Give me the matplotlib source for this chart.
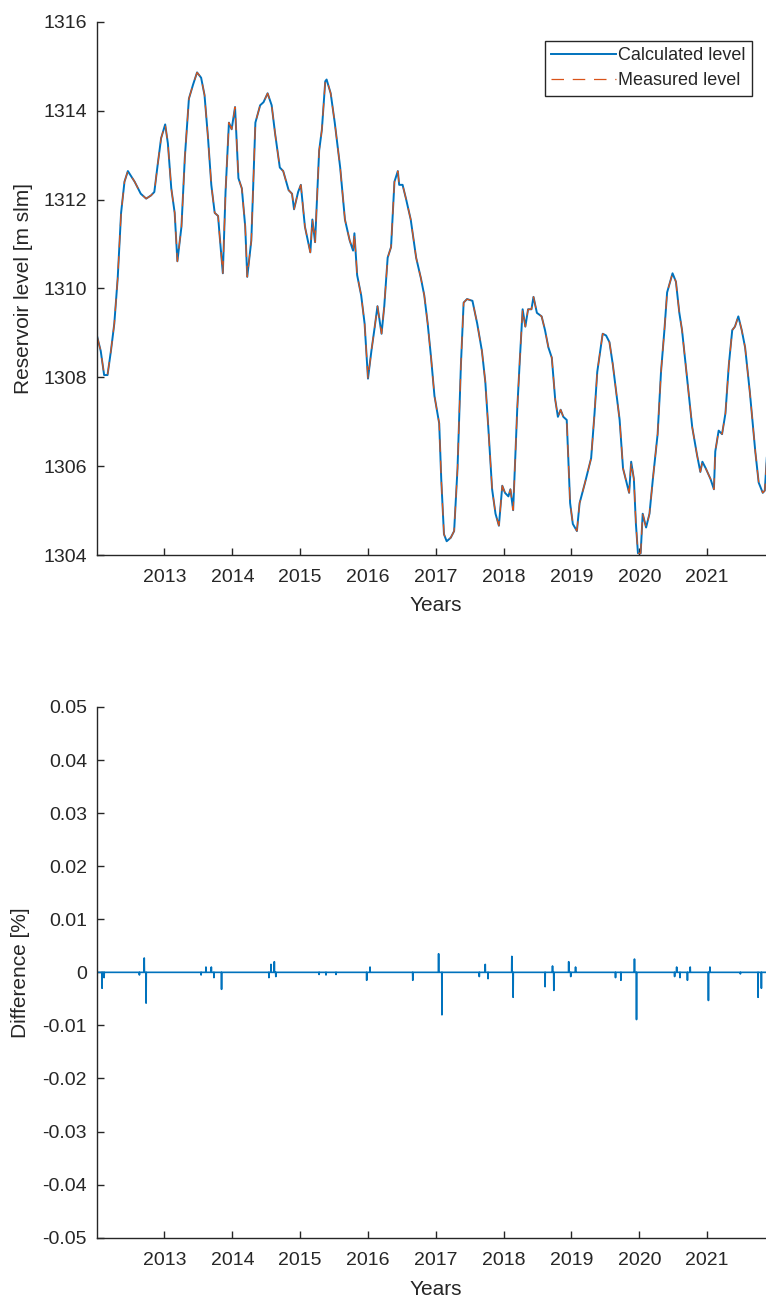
import matplotlib
matplotlib.use("Agg")
import matplotlib.pyplot as plt
import numpy as np

plt.rcParams['font.family'] = ['Liberation Sans', 'DejaVu Sans']
plt.rcParams['axes.unicode_minus'] = False

# reservoir level (decimal year, m slm)
level_years = [
    2012.01, 2012.06, 2012.11, 2012.16, 2012.21, 2012.26, 2012.31, 2012.36, 2012.41, 2012.46,
    2012.56, 2012.65, 2012.73, 2012.80, 2012.85, 2012.90, 2012.95, 2013.01, 2013.05, 2013.10,
    2013.15, 2013.19, 2013.25, 2013.30, 2013.36, 2013.42, 2013.48, 2013.54, 2013.59, 2013.64,
    2013.69, 2013.74, 2013.79, 2013.81, 2013.86, 2013.90, 2013.95, 2013.99, 2014.04, 2014.09,
    2014.14, 2014.19, 2014.22, 2014.28, 2014.34, 2014.41, 2014.46, 2014.52, 2014.58, 2014.63,
    2014.70, 2014.75, 2014.83, 2014.88, 2014.91, 2014.97, 2015.01, 2015.07, 2015.15, 2015.18,
    2015.22, 2015.28, 2015.32, 2015.37, 2015.39, 2015.45, 2015.51, 2015.59, 2015.66, 2015.73,
    2015.78, 2015.80, 2015.84, 2015.90, 2015.95, 2016.00, 2016.05, 2016.10, 2016.14, 2016.17,
    2016.20, 2016.24, 2016.29, 2016.34, 2016.39, 2016.44, 2016.46, 2016.51, 2016.56, 2016.63,
    2016.71, 2016.78, 2016.83, 2016.88, 2016.93, 2016.98, 2017.05, 2017.08, 2017.12, 2017.16,
    2017.22, 2017.27, 2017.32, 2017.37, 2017.41, 2017.46, 2017.54, 2017.61, 2017.68, 2017.73,
    2017.78, 2017.83, 2017.88, 2017.93, 2017.98, 2018.02, 2018.07, 2018.10, 2018.14, 2018.20,
    2018.24, 2018.28, 2018.32, 2018.36, 2018.41, 2018.44, 2018.49, 2018.56, 2018.61, 2018.66,
    2018.71, 2018.76, 2018.80, 2018.84, 2018.88, 2018.93, 2018.98, 2019.02, 2019.08, 2019.12,
    2019.20, 2019.29, 2019.34, 2019.38, 2019.41, 2019.46, 2019.51, 2019.56, 2019.61, 2019.66,
    2019.71, 2019.76, 2019.80, 2019.85, 2019.88, 2019.92, 2019.95, 2019.98, 2020.02, 2020.05,
    2020.10, 2020.15, 2020.20, 2020.27, 2020.32, 2020.37, 2020.41, 2020.49, 2020.54, 2020.59,
    2020.63, 2020.71, 2020.78, 2020.85, 2020.90, 2020.93, 2020.98, 2021.05, 2021.10, 2021.12,
    2021.17, 2021.22, 2021.27, 2021.32, 2021.37, 2021.41, 2021.46, 2021.51, 2021.56, 2021.63,
    2021.71, 2021.76, 2021.82, 2021.85, 2021.88, 2021.95, 2022.00,
]
level_values = [
    1308.90, 1308.59, 1308.05, 1308.05, 1308.59, 1309.21, 1310.23, 1311.70, 1312.40, 1312.64,
    1312.40, 1312.13, 1312.02, 1312.09, 1312.17, 1312.79, 1313.38, 1313.69, 1313.26, 1312.25,
    1311.70, 1310.61, 1311.39, 1312.95, 1314.27, 1314.58, 1314.86, 1314.74, 1314.35, 1313.42,
    1312.33, 1311.70, 1311.63, 1311.24, 1310.34, 1312.17, 1313.73, 1313.58, 1314.08, 1312.48,
    1312.25, 1311.39, 1310.26, 1311.08, 1313.73, 1314.12, 1314.19, 1314.39, 1314.12, 1313.49,
    1312.72, 1312.64, 1312.21, 1312.13, 1311.78, 1312.17, 1312.33, 1311.39, 1310.81, 1311.55,
    1311.04, 1313.10, 1313.57, 1314.66, 1314.70, 1314.39, 1313.73, 1312.72, 1311.55, 1311.08,
    1310.85, 1311.24, 1310.30, 1309.84, 1309.21, 1307.97, 1308.59, 1309.14, 1309.60, 1309.29,
    1308.98, 1309.60, 1310.69, 1310.93, 1312.40, 1312.64, 1312.33, 1312.33, 1312.02, 1311.55,
    1310.69, 1310.23, 1309.84, 1309.21, 1308.44, 1307.58, 1306.96, 1305.71, 1304.47, 1304.31,
    1304.39, 1304.54, 1305.95, 1308.28, 1309.68, 1309.76, 1309.72, 1309.21, 1308.59, 1307.89,
    1306.72, 1305.48, 1304.93, 1304.66, 1305.56, 1305.40, 1305.32, 1305.48, 1305.01, 1307.27,
    1308.44, 1309.53, 1309.14, 1309.53, 1309.53, 1309.81, 1309.45, 1309.37, 1309.06, 1308.67,
    1308.44, 1307.50, 1307.11, 1307.27, 1307.11, 1307.04, 1305.17, 1304.70, 1304.54, 1305.17,
    1305.63, 1306.18, 1307.19, 1308.12, 1308.44, 1308.98, 1308.94, 1308.79, 1308.28, 1307.66,
    1307.04, 1305.95, 1305.71, 1305.40, 1306.10, 1305.71, 1304.70, 1304.04, 1304.04, 1304.93,
    1304.62, 1304.93, 1305.71, 1306.72, 1308.12, 1309.06, 1309.91, 1310.34, 1310.15, 1309.45,
    1309.06, 1307.89, 1306.88, 1306.26, 1305.87, 1306.10, 1305.95, 1305.71, 1305.48, 1306.33,
    1306.80, 1306.72, 1307.19, 1308.28, 1309.06, 1309.14, 1309.37, 1309.06, 1308.67, 1307.66,
    1306.33, 1305.63, 1305.40, 1305.45, 1306.20, 1306.70, 1307.00,
]

# difference spikes [%], zero everywhere else
diff_years = [
    2012.08, 2012.11, 2012.63, 2012.70, 2012.73, 2013.54, 2013.61, 2013.69, 2013.73, 2013.84,
    2014.54, 2014.57, 2014.62, 2014.64, 2015.28, 2015.38, 2015.53, 2015.98, 2016.03, 2016.66,
    2017.04, 2017.09, 2017.64, 2017.73, 2017.77, 2018.12, 2018.14, 2018.61, 2018.72, 2018.74,
    2018.96, 2018.99, 2019.06, 2019.65, 2019.73, 2019.93, 2019.96, 2020.52, 2020.55, 2020.60,
    2020.71, 2020.75, 2021.02, 2021.04, 2021.49, 2021.75, 2021.80,
]
diff_values = [
    -0.0030, -0.0010, -0.0005, 0.0027, -0.0058, -0.0005, 0.0010, 0.0010, -0.0010, -0.0032,
    -0.0010, 0.0015, 0.0020, -0.0008, -0.0004, -0.0005, -0.0004, -0.0015, 0.0010, -0.0015,
    0.0035, -0.0080, -0.0008, 0.0015, -0.0012, 0.0030, -0.0047, -0.0027, 0.0012, -0.0034,
    0.0020, -0.0008, 0.0010, -0.0010, -0.0015, 0.0025, -0.0089, -0.0008, 0.0010, -0.0010,
    -0.0015, 0.0010, -0.0053, 0.0010, -0.0003, -0.0047, -0.0030,
]

year_ticks = [2013, 2014, 2015, 2016, 2017, 2018, 2019, 2020, 2021]
level_ticks = [1304, 1306, 1308, 1310, 1312, 1314, 1316]
diff_ticks = [-0.05, -0.04, -0.03, -0.02, -0.01, 0, 0.01, 0.02, 0.03, 0.04, 0.05]
diff_tick_labels = ['-0.05', '-0.04', '-0.03', '-0.02', '-0.01', '0',
                    '0.01', '0.02', '0.03', '0.04', '0.05']

BLUE = '#0072BD'
ORANGE = '#D95319'
INK = '#262626'

# daily grid for the difference trace
day_x = np.arange(2012.0, 2022.0, 1 / 365.0)
day_y = np.zeros_like(day_x)
for yr, v in zip(diff_years, diff_values):
    day_y[np.argmin(np.abs(day_x - yr))] = v

fig = plt.figure(figsize=(7.66, 13.02), dpi=100)
ax1 = fig.add_axes([0.1262, 0.5737, 0.8855, 0.4096])
ax2 = fig.add_axes([0.1262, 0.0494, 0.8855, 0.4076])


def style(ax):
    for s in ['top', 'right']:
        ax.spines[s].set_visible(False)
    for s in ['left', 'bottom']:
        ax.spines[s].set_color(INK)
        ax.spines[s].set_linewidth(1.0)
    ax.tick_params(axis='both', direction='in', length=5, width=1.0,
                   colors=INK, labelsize=14, top=False, right=False)
    ax.tick_params(axis='x', pad=10)
    ax.tick_params(axis='y', pad=7)
    ax.set_xlim(2012.0, 2022.0)
    ax.set_xticks(year_ticks)
    ax.set_xlabel('Years', fontsize=15, color=INK)
    ax.xaxis.set_label_coords(0.5, -0.077)


ax1.plot(level_years, level_values, color=BLUE, lw=1.4, label='Calculated level')
ax1.plot(level_years, level_values, color=ORANGE, lw=0.9, dashes=(10, 7),
         label='Measured level')
style(ax1)
ax1.set_ylim(1304, 1316)
ax1.set_yticks(level_ticks)
ax1.set_ylabel('Reservoir level [m slm]', fontsize=15, color=INK)
ax1.yaxis.set_label_coords(-0.094, 0.5)
leg = ax1.legend(loc='upper right', bbox_to_anchor=(752 / 766, 1 - 41 / 1302),
                 bbox_transform=fig.transFigure, borderaxespad=0, fancybox=False,
                 framealpha=1, edgecolor=INK, fontsize=13, handlelength=3.6,
                 handletextpad=0.1, labelspacing=0.45, borderpad=0.35)
leg.get_frame().set_linewidth(1.0)
for t in leg.get_texts():
    t.set_color(INK)

ax2.plot(day_x, day_y, color=BLUE, lw=1.2)
style(ax2)
ax2.set_ylim(-0.05, 0.05)
ax2.set_yticks(diff_ticks)
ax2.set_yticklabels(diff_tick_labels)
ax2.set_ylabel('Difference [%]', fontsize=15, color=INK)
ax2.yaxis.set_label_coords(-0.098, 0.5)
ax2.xaxis.set_label_coords(0.5, -0.080)

fig.savefig('out.png', dpi=100)
